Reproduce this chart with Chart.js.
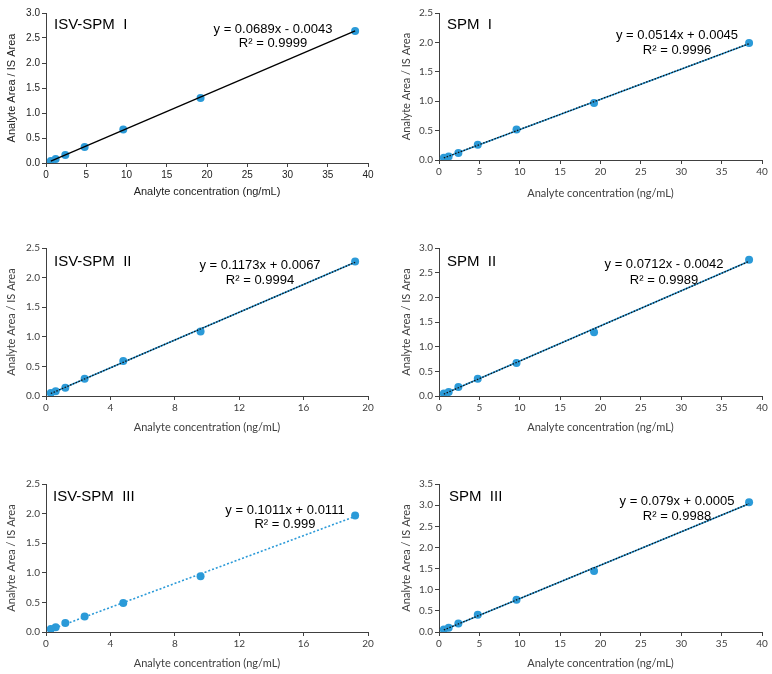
<!DOCTYPE html>
<html>
<head>
<meta charset="utf-8">
<script src="https://cdn.jsdelivr.net/npm/chart.js@4.4.1/dist/chart.umd.min.js"></script>
<style>
    html, body {
        margin: 0;
        padding: 0;
        background: #ffffff;
    }
    #page {
        position: relative;
        width: 772px;
        height: 674px;
        background: #ffffff;
    }
    #page canvas {
        position: absolute;
    }
</style>
</head>
<body>
<div id="page">
    <canvas id="c0" width="386" height="220" style="left:0;top:0"></canvas>
    <canvas id="c1" width="386" height="220" style="left:386px;top:0"></canvas>
    <canvas id="c2" width="386" height="220" style="left:0;top:220px"></canvas>
    <canvas id="c3" width="386" height="220" style="left:386px;top:220px"></canvas>
    <canvas id="c4" width="386" height="234" style="left:0;top:440px"></canvas>
    <canvas id="c5" width="386" height="234" style="left:386px;top:440px"></canvas>
</div>
<script>
// concentrations (ng/mL)
const concFull = [0.6, 1.2, 2.4, 4.8, 9.6, 19.2, 38.4];
const concHalf = [0.3, 0.6, 1.2, 2.4, 4.8, 9.6, 19.2];

// area ratios
const ratioIsvSpm1 = [0.04, 0.08, 0.16, 0.32, 0.67, 1.30, 2.64];
const ratioSpm1 = [0.04, 0.06, 0.12, 0.26, 0.52, 0.97, 1.99];
const ratioIsvSpm2 = [0.05, 0.08, 0.14, 0.29, 0.59, 1.09, 2.27];
const ratioSpm2 = [0.05, 0.08, 0.18, 0.35, 0.67, 1.29, 2.76];
const ratioIsvSpm3 = [0.05, 0.08, 0.15, 0.26, 0.49, 0.94, 1.97];
const ratioSpm3 = [0.06, 0.10, 0.20, 0.41, 0.76, 1.44, 3.07];

const panelTitles = ['ISV-SPM  I', 'SPM  I', 'ISV-SPM  II', 'SPM  II', 'ISV-SPM  III', 'SPM  III'];
const slopes = [0.0689, 0.0514, 0.1173, 0.0712, 0.1011, 0.079];
const intercepts = [-0.0043, 0.0045, 0.0067, -0.0042, 0.0111, 0.0005];
const equations = ['y = 0.0689x - 0.0043', 'y = 0.0514x + 0.0045', 'y = 0.1173x + 0.0067',
    'y = 0.0712x - 0.0042', 'y = 0.1011x + 0.0111', 'y = 0.079x + 0.0005'];
const rSquared = ['R² = 0.9999', 'R² = 0.9996', 'R² = 0.9994', 'R² = 0.9989', 'R² = 0.999', 'R² = 0.9988'];

const xMax = [40, 40, 20, 40, 20, 40];
const xStep = [5, 5, 4, 5, 4, 5];
const yMax = [3.0, 2.5, 2.5, 3.0, 2.5, 3.5];

const xValues = [concFull, concFull, concHalf, concFull, concHalf, concFull];
const yValues = [ratioIsvSpm1, ratioSpm1, ratioIsvSpm2, ratioSpm2, ratioIsvSpm3, ratioSpm3];

// layout of each panel inside its canvas
const layouts = [
    {w: 386, h: 220, padLeft: 5, left: 46, right: 368, top: 13, bottom: 163, xAxisH: 36, title: [54, 25], eq: [273, 29, 43], line: 'black', arial: true},
    {w: 386, h: 220, padLeft: 14, left: 53, right: 376, top: 13, bottom: 160, xAxisH: 40, title: [61, 25], eq: [291, 35, 50], line: 'dual'},
    {w: 386, h: 220, padLeft: 5, left: 46, right: 368, top: 28, bottom: 176, xAxisH: 38, title: [54, 42], eq: [260, 45, 60], line: 'dual'},
    {w: 386, h: 220, padLeft: 14, left: 53, right: 376, top: 28, bottom: 176, xAxisH: 38, title: [61, 42], eq: [278, 44, 60], line: 'dual'},
    {w: 386, h: 234, padLeft: 5, left: 46, right: 368, top: 44, bottom: 192, xAxisH: 38, title: [53, 57], eq: [285, 70, 84], line: 'dotted'},
    {w: 386, h: 234, padLeft: 14, left: 53, right: 376, top: 44, bottom: 192, xAxisH: 38, title: [63, 57], eq: [291, 61, 76], line: 'dual'}
];

const markerColor = '#2b9ad8';
const axisColor = '#404040';
const labelFont = '"Liberation Sans", Arial, sans-serif';

const annotationPlugin = {
    id: 'annotations',
    afterDraw(chart, args, opts) {
        const ctx = chart.ctx;
        ctx.save();
        ctx.fillStyle = '#000000';
        ctx.textBaseline = 'middle';
        ctx.font = '15px ' + labelFont;
        ctx.textAlign = 'left';
        ctx.fillText(opts.title, opts.titlePos[0], opts.titlePos[1]);
        ctx.font = '13px ' + labelFont;
        ctx.textAlign = 'center';
        ctx.fillText(opts.equation, opts.eqPos[0], opts.eqPos[1]);
        ctx.fillText(opts.r2, opts.eqPos[0], opts.eqPos[2]);
        ctx.restore();
    }
};

function trendPoints(i) {
    const xs = xValues[i];
    const first = xs[0];
    const last = xs[xs.length - 1];
    return [
        {x: first, y: slopes[i] * first + intercepts[i]},
        {x: last, y: slopes[i] * last + intercepts[i]}
    ];
}

function buildDatasets(i, lay) {
    const points = xValues[i].map((x, k) => ({x: x, y: yValues[i][k]}));
    const line = trendPoints(i);
    const datasets = [];

    if (lay.line === 'black') {
        datasets.push({data: line, showLine: true, borderColor: '#000000', borderWidth: 1.3, pointRadius: 0});
    } else if (lay.line === 'dotted') {
        datasets.push({data: line, showLine: true, borderColor: markerColor, borderWidth: 1.6, borderDash: [2, 2], pointRadius: 0});
    } else {
        datasets.push({data: line, showLine: true, borderColor: '#111111', borderWidth: 1.3, borderDash: [1.5, 1.5], pointRadius: 0});
        datasets.push({data: line, showLine: true, borderColor: markerColor, borderWidth: 1.6, pointRadius: 0});
    }

    datasets.push({
        data: points,
        showLine: false,
        pointRadius: 4,
        pointBackgroundColor: markerColor,
        pointBorderColor: markerColor,
        pointBorderWidth: 0
    });
    return datasets;
}

function buildChart(i) {
    const lay = layouts[i];
    const tickFont = lay.arial ? labelFont : 'Lato, "Open Sans", sans-serif';
    const tickColor = lay.arial ? '#222222' : '#404040';

    new Chart(document.getElementById('c' + i), {
        type: 'scatter',
        data: {datasets: buildDatasets(i, lay)},
        options: {
            responsive: false,
            animation: false,
            events: [],
            layout: {
                padding: {
                    left: lay.padLeft,
                    top: lay.top,
                    right: lay.w - lay.right,
                    bottom: lay.h - lay.bottom - lay.xAxisH
                }
            },
            plugins: {
                legend: {display: false},
                tooltip: {enabled: false},
                annotations: {
                    title: panelTitles[i],
                    titlePos: lay.title,
                    equation: equations[i],
                    r2: rSquared[i],
                    eqPos: lay.eq
                }
            },
            scales: {
                x: {
                    type: 'linear',
                    min: 0,
                    max: xMax[i],
                    afterFit: (scale) => { scale.height = lay.xAxisH; },
                    border: {display: true, color: axisColor, width: 1},
                    grid: {drawOnChartArea: false, drawTicks: true, tickLength: 4, color: axisColor},
                    ticks: {stepSize: xStep[i], color: tickColor, padding: 2, font: {family: tickFont, size: 10}},
                    title: {
                        display: true,
                        text: 'Analyte concentration (ng/mL)',
                        color: tickColor,
                        padding: 0,
                        font: {family: tickFont, size: 11}
                    }
                },
                y: {
                    type: 'linear',
                    min: 0,
                    max: yMax[i],
                    afterFit: (scale) => { scale.width = lay.left - lay.padLeft; },
                    border: {display: true, color: axisColor, width: 1},
                    grid: {drawOnChartArea: false, drawTicks: true, tickLength: 4, color: axisColor},
                    ticks: {
                        stepSize: 0.5,
                        color: tickColor,
                        padding: 2,
                        font: {family: tickFont, size: 10},
                        callback: (v) => v.toFixed(1)
                    },
                    title: {
                        display: true,
                        text: 'Analyte Area / IS Area',
                        color: tickColor,
                        padding: 0,
                        font: {family: tickFont, size: 11}
                    }
                }
            }
        },
        plugins: [annotationPlugin]
    });
}

for (let i = 0; i < layouts.length; i++) {
    buildChart(i);
}
</script>
</body>
</html>
